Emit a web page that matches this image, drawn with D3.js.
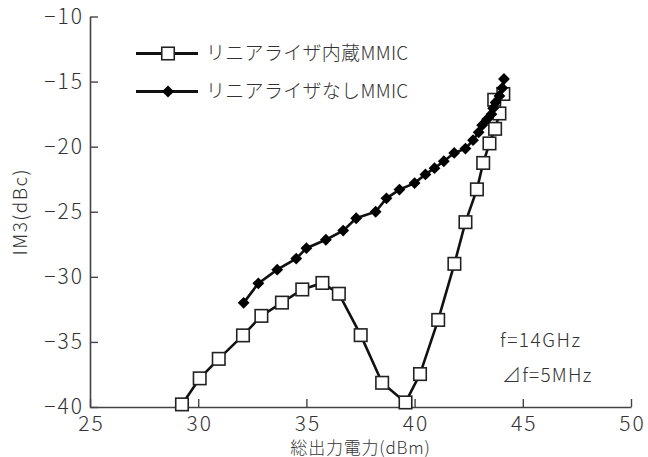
<!DOCTYPE html>
<html><head><meta charset="utf-8">
<script src="https://cdn.jsdelivr.net/npm/d3@7"></script>
<style>
html,body{margin:0;padding:0;background:#fff;}
svg text{font-family:"Noto Sans CJK JP","Noto Sans",sans-serif;fill:#333;}
</style></head>
<body><svg id="c" width="648" height="457"></svg>
<script>
const xTicks = [25, 30, 35, 40, 45, 50];
const yTicks = [-10, -15, -20, -25, -30, -35, -40];
const seriesNames = ["リニアライザ内蔵MMIC", "リニアライザなしMMIC"];
const withLinX = [29.25,30.07,30.95,32.07,32.92,33.87,34.81,35.74,36.5,37.51,38.5,39.58,40.25,41.09,41.84,42.35,42.88,43.17,43.46,43.72,43.92,43.68,44.1];
const withLinY = [-39.8,-37.8,-36.3,-34.5,-33.0,-31.98,-30.97,-30.47,-31.3,-34.48,-38.14,-39.65,-37.47,-33.31,-29.0,-25.8,-23.28,-21.25,-19.75,-18.63,-17.45,-16.4,-15.95];
const noLinX = [32.1,32.78,33.65,34.53,35.0,35.9,36.7,37.3,38.2,38.7,39.3,40.0,40.5,40.92,41.35,41.83,42.35,42.7,42.96,43.12,43.35,43.55,43.63,43.74,43.92,44.05,44.13];
const noLinY = [-32.0,-30.5,-29.45,-28.6,-27.8,-27.15,-26.45,-25.5,-25.0,-23.97,-23.3,-22.8,-22.13,-21.65,-21.12,-20.48,-20.15,-19.5,-18.9,-18.35,-17.9,-17.5,-17.05,-16.6,-16.1,-15.5,-14.8];
const annotations = ["f=14GHz", "⊿f=5MHz"];
const xLabel = "総出力電力(dBm)";
const yLabel = "IM3(dBc)";

const svg = d3.select("#c");
const L = 90, R = 631, T = 16.5, B = 407;
const x = d3.scaleLinear().domain([25, 50]).range([L, R]);
const y = d3.scaleLinear().domain([-40, -10]).range([B, T]);
const fmt = d => (d < 0 ? "\u2212" + Math.abs(d) : "" + d);

// axes
const xAxis = d3.axisBottom(x).tickValues(xTicks).tickSizeInner(-8).tickSizeOuter(0).tickFormat(fmt).tickPadding(10);
const gx = svg.append("g").attr("transform", `translate(0,${B})`).call(xAxis);
gx.select(".domain").attr("stroke", "#444").attr("stroke-width", 1.6);
gx.selectAll(".tick line").attr("stroke", "#444").attr("stroke-width", 1.4);
gx.selectAll(".tick text").attr("font-size", 21).attr("fill", "#333").attr("font-family", '"Noto Sans CJK JP",sans-serif')
  .attr("font-weight", 300).attr("letter-spacing", 2).attr("dx", 1).attr("dy", "0.68em");

const yAxis = d3.axisLeft(y).tickValues(yTicks).tickSizeInner(-8).tickSizeOuter(0).tickFormat(fmt).tickPadding(6);
const gy = svg.append("g").attr("transform", `translate(${L},0)`).call(yAxis);
gy.select(".domain").attr("stroke", "#444").attr("stroke-width", 1.6);
gy.selectAll(".tick line").attr("stroke", "#444").attr("stroke-width", 1.4);
gy.selectAll(".tick text").attr("font-size", 21).attr("fill", "#333").attr("font-family", '"Noto Sans CJK JP",sans-serif')
  .attr("font-weight", 300).attr("letter-spacing", 2);

// axis labels
svg.append("text").attr("x", (L + R) / 2).attr("y", 454).attr("text-anchor", "middle")
  .attr("font-size", 17).attr("font-weight", 300).attr("letter-spacing", 0.8).text(xLabel);
svg.append("text").attr("transform", `translate(27,${(T + B) / 2}) rotate(-90)`).attr("text-anchor", "middle")
  .attr("font-size", 19).attr("font-weight", 300).attr("letter-spacing", 1.5).text(yLabel);

const line = d3.line().x(d => x(d[0])).y(d => y(d[1]));
const sq = withLinX.map((v, i) => [v, withLinY[i]]);
const dm = noLinX.map((v, i) => [v, noLinY[i]]);

// series lines
svg.append("path").datum(sq).attr("d", line).attr("fill", "none").attr("stroke", "#111").attr("stroke-width", 2.6);
svg.append("path").datum(dm).attr("d", line).attr("fill", "none").attr("stroke", "#111").attr("stroke-width", 2.6);

const sqSize = 12.5;
svg.append("g").selectAll("rect").data(sq).join("rect")
  .attr("x", d => x(d[0]) - sqSize / 2).attr("y", d => y(d[1]) - sqSize / 2)
  .attr("width", sqSize).attr("height", sqSize)
  .attr("fill", "#fff").attr("stroke", "#222").attr("stroke-width", 1.6);

svg.append("g").selectAll("path").data(dm).join("path")
  .attr("d", d3.symbol().type(d3.symbolSquare).size(70))
  .attr("transform", d => `translate(${x(d[0])},${y(d[1])}) rotate(45)`)
  .attr("fill", "#000");

// legend
const legY = [53.5, 91.5];
const lg = svg.append("g");
lg.append("line").attr("x1", 136).attr("x2", 198).attr("y1", legY[0]).attr("y2", legY[0]).attr("stroke", "#111").attr("stroke-width", 3);
lg.append("rect").attr("x", 168 - sqSize / 2).attr("y", legY[0] - sqSize / 2).attr("width", sqSize).attr("height", sqSize)
  .attr("fill", "#fff").attr("stroke", "#222").attr("stroke-width", 1.6);
lg.append("line").attr("x1", 136).attr("x2", 198).attr("y1", legY[1]).attr("y2", legY[1]).attr("stroke", "#111").attr("stroke-width", 3);
lg.append("path").attr("d", d3.symbol().type(d3.symbolSquare).size(72)).attr("transform", `translate(168,${legY[1]}) rotate(45)`).attr("fill", "#000");
seriesNames.forEach((n, i) => {
  lg.append("text").attr("x", 206).attr("y", legY[i]).attr("dy", "0.36em").attr("font-size", 19).attr("font-weight", 300).attr("letter-spacing", 0.3).text(n);
});

// annotations
svg.append("text").attr("x", 500).attr("y", 340).attr("dy", "0.36em").attr("font-size", 19).attr("font-weight", 300).attr("letter-spacing", 1.5).text(annotations[0]);
svg.append("text").attr("x", 502).attr("y", 375).attr("dy", "0.36em").attr("font-size", 19).attr("font-weight", 300).attr("letter-spacing", 1.2).text(annotations[1]);
</script></body></html>
